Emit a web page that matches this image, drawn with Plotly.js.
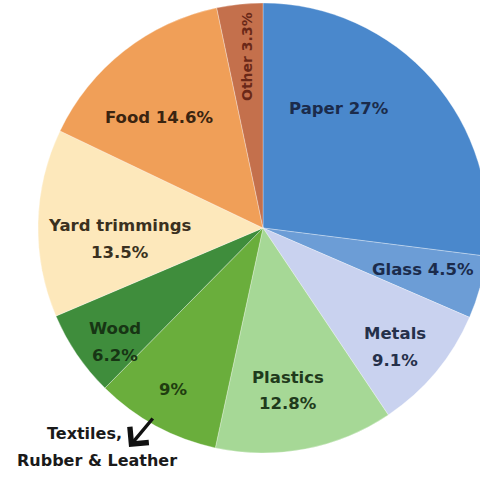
<!DOCTYPE html>
<html>
<head>
<meta charset="utf-8">
<script src="https://cdn.plot.ly/plotly-3.0.1.min.js"></script>
<style>
  html, body { margin: 0; padding: 0; overflow: hidden; background: #ffffff; }
  #chart { width: 490px; height: 477px; }
</style>
</head>
<body>
<div id="chart"></div>
<script>
// ---- data ----
const categories = ['Paper', 'Glass', 'Metals', 'Plastics', 'Textiles, Rubber & Leather', 'Wood', 'Yard trimmings', 'Food', 'Other'];
const values = [27, 4.5, 9.1, 12.8, 9, 6.2, 13.5, 14.6, 3.3];

// ---- styles ----
const sliceColors = ['#4a88cc', '#6c9dd6', '#c9d2ef', '#a6d896', '#6aae3c', '#3f8d3c', '#fde8bb', '#f09f58', '#c4704c'];
const textColors  = ['#1b2b4b', '#1b2b4b', '#25304a', '#1f3a1c', '#1f3d10', '#173514', '#3a3020', '#3a2410', '#6a2818'];

// label placement (pixel centres in the page), kept apart from the data
const labelSpots = [
  { x: 339, y: 108, two: false },
  { x: 423, y: 269, two: false },
  { x: 395, y: 333, y2: 360, two: true },
  { x: 288, y: 377, y2: 403, two: true },
  { x: 173, y: 389, pctOnly: true },
  { x: 115, y: 328, y2: 355, two: true },
  { x: 120, y: 225, y2: 252, two: true },
  { x: 159, y: 118, two: false },
  { x: 247, y: 57, two: false, angle: -90 }
];

const W = 490, H = 477;
const M = { l: 38, r: 2, t: 3, b: 24 };
const PW = W - M.l - M.r, PH = H - M.t - M.b;
const px = x => (x - M.l) / PW;
const py = y => 1 - (y - M.t) / PH;

const annotations = [];
function addText(txt, x, y, color, size, angle) {
  annotations.push({
    text: txt, x: px(x), y: py(y), xref: 'paper', yref: 'paper',
    xanchor: 'center', yanchor: 'middle', showarrow: false,
    textangle: angle || 0,
    font: { family: 'DejaVu Sans, Arial, sans-serif', size: size, color: color, weight: 'bold' }
  });
}

categories.forEach((name, i) => {
  const s = labelSpots[i];
  const pct = values[i] + '%';
  const size = s.angle ? 14 : 16.5;
  if (s.pctOnly) {
    addText('<b>' + pct + '</b>', s.x, s.y, textColors[i], size);
  } else if (s.two) {
    addText('<b>' + name + '</b>', s.x, s.y, textColors[i], size);
    addText('<b>' + pct + '</b>', s.x, s.y2, textColors[i], size);
  } else {
    addText('<b>' + name + ' ' + pct + '</b>', s.x, s.y, textColors[i], size, s.angle);
  }
});

// callout for textiles
const calloutLines = categories[4].split(' ');
addText('<b>' + calloutLines[0] + '</b>', 84, 433, '#1a1a1a', 16);
addText('<b>' + calloutLines.slice(1).join(' ') + '</b>', 97, 461, '#1a1a1a', 16);
annotations.push({
  text: '', x: px(129), y: py(447), xref: 'paper', yref: 'paper',
  showarrow: true, ax: 25, ay: -30, arrowhead: 4, arrowsize: 1.4,
  arrowwidth: 3.4, arrowcolor: '#111111'
});

const trace = {
  type: 'pie',
  labels: categories,
  values: values,
  sort: false,
  direction: 'clockwise',
  rotation: 0,
  textinfo: 'none',
  hoverinfo: 'none',
  marker: { colors: sliceColors, line: { color: 'rgba(255,255,255,0.3)', width: 1 } },
  showlegend: false
};

const layout = {
  width: W, height: H,
  margin: M,
  paper_bgcolor: '#ffffff',
  plot_bgcolor: '#ffffff',
  showlegend: false,
  annotations: annotations
};

Plotly.newPlot('chart', [trace], layout, { displayModeBar: false, staticPlot: true });
</script>
</body>
</html>
